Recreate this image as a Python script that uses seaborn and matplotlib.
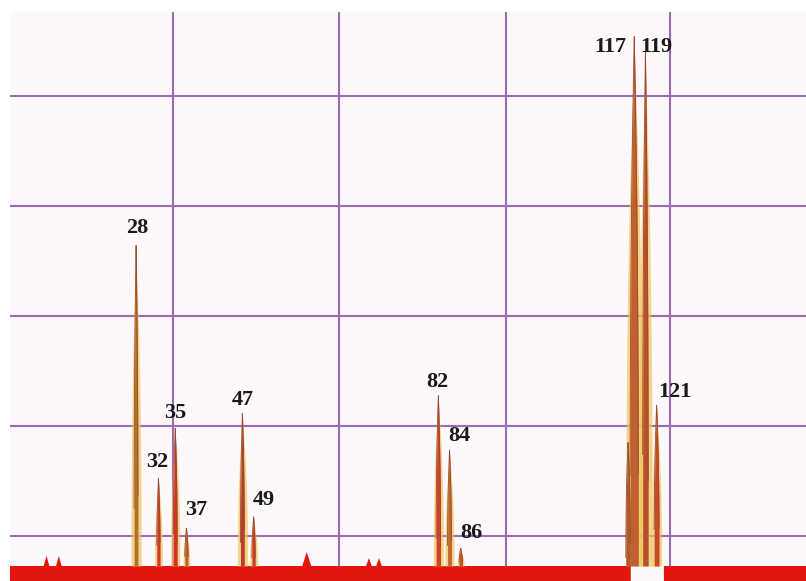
import numpy as np
import pandas as pd
import matplotlib
matplotlib.use("Agg")
import matplotlib.pyplot as plt
import seaborn as sns

# ---- data ----
mz = [28, 32, 35, 37, 47, 49, 82, 84, 86, 117, 119, 121]
intensity = [72.9, 30.5, 39.6, 21.4, 42.3, 23.4, 45.6, 35.6, 17.7, 111.1, 108.4, 43.7]
labels = ["28", "32", "35", "37", "47", "49", "82", "84", "86", "117", "119", "121"]

# small unlabelled features
minor_mz = [115.9, 12.0, 14.2, 58.5, 69.6, 71.4]
minor_int = [37.0, 16.3, 16.3, 17.0, 15.9, 15.9]

baseline_level = 14.45
grid_x = [34.60, 64.26, 94.10, 123.39]
grid_y = [20, 40, 60, 80, 100]

# ---- style ----
core_hw = [0.35, 0.3, 0.35, 0.3, 0.35, 0.3, 0.4, 0.35, 0.3, 0.75, 0.5, 0.45]
halo_hw = [0.9, 0.7, 0.8, 0.6, 0.9, 0.7, 0.9, 0.8, 0.6, 1.5, 1.2, 0.9]
core_colors = ["#b0702e", "#cc3a28", "#d8302a", "#c0602c", "#b8402a", "#cc3a2a",
               "#d0402a", "#c0682e", "#c8502a", "#c06030", "#b8502c", "#c84a2a"]
minor_hw = [0.4, 0.5, 0.5, 0.8, 0.5, 0.5]
shape_pow = 0.4
label_off = [(1, 17), (-1, 16), (0, 15), (10, 18), (0, 13), (10, 17),
             (-1, 13), (10, 14), (11, 15), (-24, -12), (11, 3), (18, 13)]
cluster_gap = (116.4, 122.3)

sns.set_theme(style="white")
plt.rcParams["font.family"] = ["Liberation Serif", "DejaVu Serif"]

fig = plt.figure(figsize=(8.06, 5.81), dpi=100, facecolor="white")
ax = fig.add_axes([10 / 806, 0, 796 / 806, 569 / 581])
ax.set_facecolor("#fdf8fc")
xmin, xmax = 5.48, 147.69
ymin, ymax = 11.72, 115.27
ax.set_xlim(xmin, xmax)
ax.set_ylim(ymin, ymax)
ax.set_xticks(grid_x)
ax.set_yticks(grid_y)
ax.tick_params(length=0, labelbottom=False, labelleft=False)
ax.grid(True, color="#9a6cb0", lw=1.5)
ax.set_axisbelow(True)
for s in ax.spines.values():
    s.set_visible(False)

x = np.linspace(xmin, xmax, 12000)


def profile(m, h, w):
    t = np.clip(1 - np.abs(x - m) / w, 0, 1) ** shape_pow
    return t > 0, baseline_level + (h - baseline_level) * t


# baseline band with small bumps
band = np.full_like(x, baseline_level)
for m, h, w in zip(minor_mz[1:], minor_int[1:], minor_hw[1:]):
    tri = np.clip(1 - np.abs(x - m) / w, 0, 1)
    band = np.maximum(band, baseline_level + (h - baseline_level) * tri)
gap = (x > cluster_gap[0]) & (x < cluster_gap[1])
ax.fill_between(x, ymin, band, where=~gap, color="#e3170f", lw=0, zorder=2)

# halos first
for m, h, w in zip(mz, intensity, halo_hw):
    sel, y = profile(m, h * 0.97, w)
    ax.fill_between(x[sel], baseline_level, y[sel], color="#f0c458", alpha=0.7,
                    lw=0, zorder=3)

# cores
rows = []
all_mz = mz + minor_mz[:1]
all_int = intensity + minor_int[:1]
all_hw = core_hw + minor_hw[:1]
all_col = core_colors + ["#b0582c"]
for i, (m, h, w, c) in enumerate(zip(all_mz, all_int, all_hw, all_col)):
    sel, y = profile(m, h, w)
    ax.fill_between(x[sel], baseline_level, y[sel], color=c, lw=0, zorder=4)
    rows.append(pd.DataFrame({"x": x[sel], "y": y[sel], "peak": i}))

df = pd.concat(rows, ignore_index=True)
sns.lineplot(data=df, x="x", y="y", units="peak", estimator=None, sort=False,
             color="#9a4a2a", lw=0.6, ax=ax, zorder=5, legend=False)
ax.set_xlabel("")
ax.set_ylabel("")

for m, h, lab, (dx, dy) in zip(mz, intensity, labels, label_off):
    ax.annotate(lab, xy=(m, h), xytext=(dx, dy), textcoords="offset pixels",
                ha="center", va="center", fontsize=16, fontweight="bold",
                color="#1a1a1a", zorder=6)

fig.savefig("out.png", dpi=100, facecolor="white")
